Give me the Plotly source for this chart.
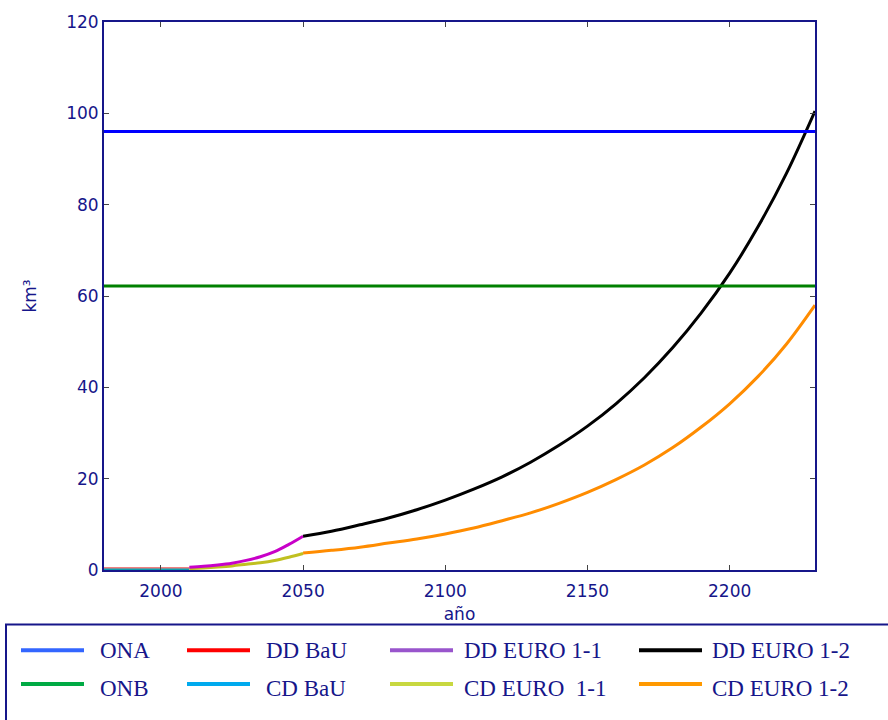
import plotly.graph_objects as go

# ---- data -------------------------------------------------------------
ona_years = [1980, 2230]
ona_values = [96.0, 96.0]

onb_years = [1980, 2230]
onb_values = [62.2, 62.2]

bau_years = [1980, 1990, 2000, 2010]
dd_bau = [0.5, 0.5, 0.5, 0.5]
cd_bau = [0.15, 0.15, 0.15, 0.15]

euro11_years = [2010, 2015, 2020, 2025, 2030, 2035, 2040, 2045, 2050]
dd_euro_11 = [0.6, 0.8, 1.1, 1.5, 2.1, 2.9, 4.0, 5.6, 7.4]
cd_euro_11 = [0.3, 0.45, 0.65, 0.9, 1.25, 1.6, 2.1, 2.8, 3.6]

euro12_years = [2050, 2060, 2070, 2080, 2090, 2100, 2110, 2120, 2130, 2140,
                2150, 2160, 2170, 2180, 2190, 2200, 2210, 2220, 2230]
dd_euro_12 = [7.4, 8.5, 9.9, 11.4, 13.2, 15.3, 17.7, 20.4, 23.6, 27.3,
              31.5, 36.4, 42.1, 48.7, 56.3, 65.0, 75.2, 86.9, 100.5]
cd_euro_12 = [3.7, 4.3, 5.0, 5.9, 6.8, 7.9, 9.2, 10.8, 12.5, 14.6,
              17.0, 19.8, 23.0, 26.8, 31.3, 36.4, 42.4, 49.5, 58.0]

x_ticks = [2000, 2050, 2100, 2150, 2200]
y_ticks = [0, 20, 40, 60, 80, 100, 120]

legend_labels = [["ONA", "DD BaU", "DD EURO 1-1", "DD EURO 1-2"],
                 ["ONB", "CD BaU", "CD EURO  1-1", "CD EURO 1-2"]]
legend_colors = [["#3366ff", "#ff0000", "#9955cc", "#000000"],
                 ["#00aa44", "#00aaee", "#c8d840", "#ff9900"]]

# ---- styling ----------------------------------------------------------
NAVY = "#16168a"
W, H = 888, 720
L, R, T, B = 104, 73, 17, 150
PW, PH = W - L - R, H - T - B


def px_to_paper(x, y):
    return (x - L) / PW, (H - B - y) / PH


fig = go.Figure()

series = [
    (bau_years, cd_bau, "#0aa0b0", 3),
    (bau_years, dd_bau, "#f08080", 1.5),
    (euro11_years, cd_euro_11, "#c0c020", 3),
    (euro11_years, dd_euro_11, "#c800c8", 3),
    (euro12_years, cd_euro_12, "#ff8c00", 3),
    (euro12_years, dd_euro_12, "#000000", 3),
    (onb_years, onb_values, "#008000", 3),
    (ona_years, ona_values, "#0000ff", 3),
]
for xs, ys, color, width in series:
    fig.add_trace(go.Scatter(x=xs, y=ys, mode="lines", showlegend=False,
                             line=dict(color=color, width=width,
                                       shape="spline", smoothing=1),
                             hoverinfo="skip"))

axis_common = dict(
    showline=True, linecolor=NAVY, linewidth=2, mirror="allticks",
    ticks="inside", ticklen=5, tickwidth=1, tickcolor="#444444",
    showgrid=False, zeroline=False,
    tickfont=dict(family="DejaVu Sans", size=17, color=NAVY),
)

fig.update_xaxes(range=[1980, 2230], tickvals=x_ticks, ticklabelstandoff=5,
                 title=dict(text="año", standoff=8,
                            font=dict(family="DejaVu Sans", size=17, color=NAVY)),
                 **axis_common)
fig.update_yaxes(range=[0, 120], tickvals=y_ticks,
                 title=dict(text="km³", standoff=25,
                            font=dict(family="DejaVu Sans", size=17, color=NAVY)),
                 **axis_common)

# ---- legend box ---------------------------------------------------------
shapes = []
annotations = []
x0, y0 = px_to_paper(6, 625)
x1, y1 = px_to_paper(905, 735)
shapes.append(dict(type="rect", xref="paper", yref="paper",
                   x0=x0, y0=y1, x1=x1, y1=y0,
                   line=dict(color=NAVY, width=2), fillcolor="rgba(0,0,0,0)"))

col_swatch = [21, 187, 390, 639]
col_text = [98, 264, 462, 710]
row_swatch = [651, 685]
row_text = [651, 690]
swatch_len = 63
for r in range(2):
    for c in range(4):
        sx0, sy = px_to_paper(col_swatch[c], row_swatch[r])
        sx1, _ = px_to_paper(col_swatch[c] + swatch_len, row_swatch[r])
        shapes.append(dict(type="line", xref="paper", yref="paper",
                           x0=sx0, x1=sx1, y0=sy, y1=sy,
                           line=dict(color=legend_colors[r][c], width=4)))
        tx, ty = px_to_paper(col_text[c], row_text[r])
        annotations.append(dict(xref="paper", yref="paper", x=tx, y=ty,
                                xanchor="left", yanchor="middle",
                                text=legend_labels[r][c].replace("  ", "&nbsp; "),
                                showarrow=False,
                                font=dict(family="Liberation Serif", size=23,
                                          color=NAVY)))

fig.update_layout(
    width=W, height=H,
    margin=dict(l=L, r=R, t=T, b=B),
    paper_bgcolor="white", plot_bgcolor="white",
    shapes=shapes, annotations=annotations,
    showlegend=False,
)

fig.write_html("out.html")
